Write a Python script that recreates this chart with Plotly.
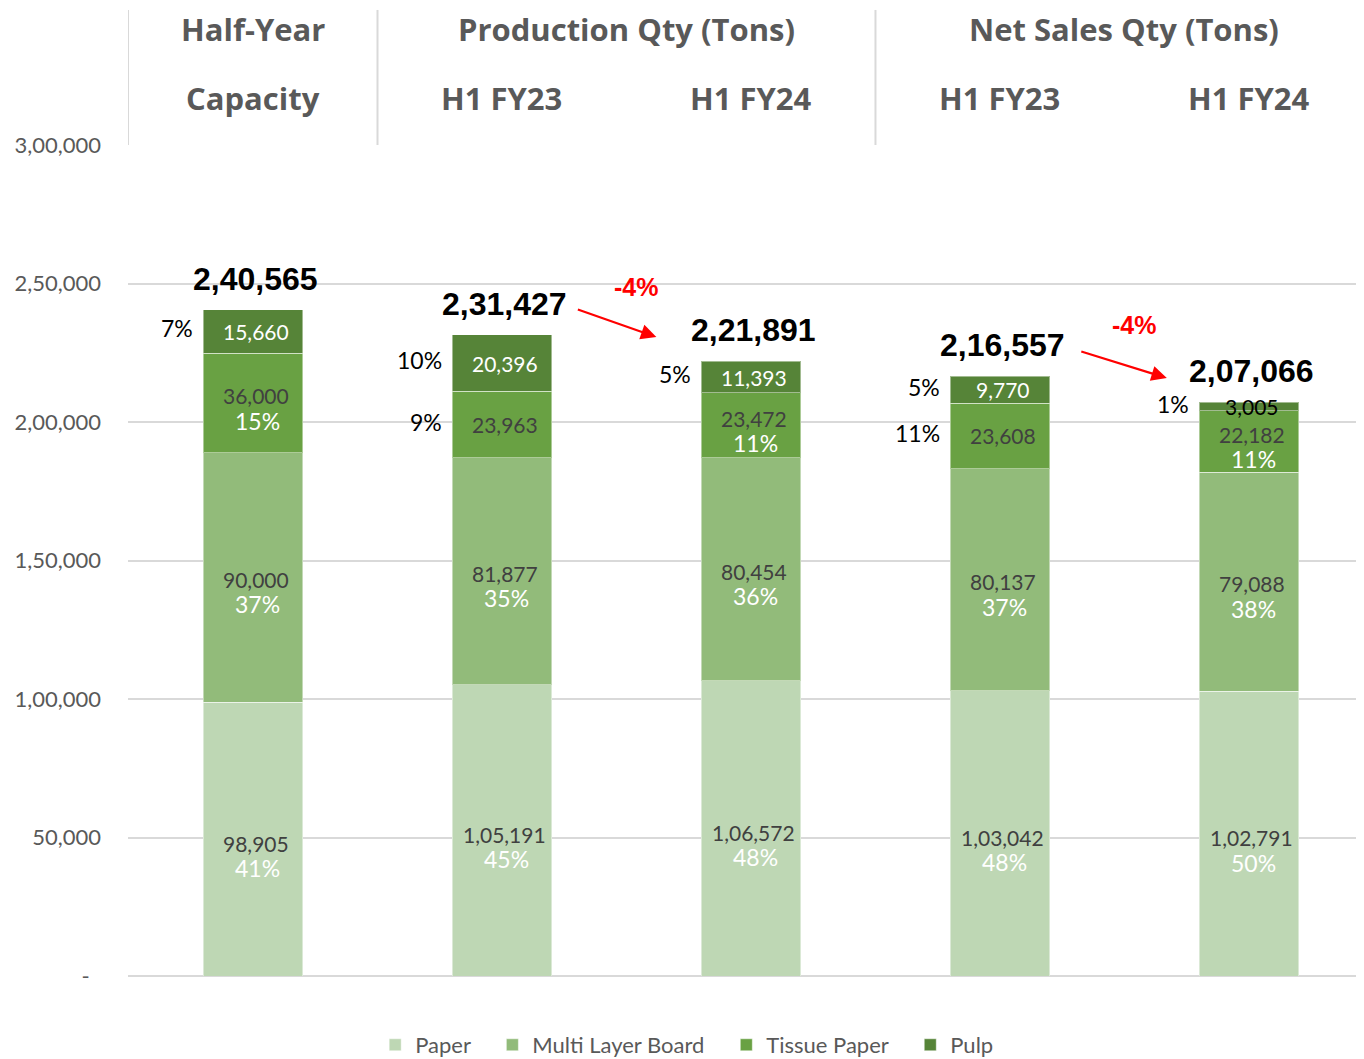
import plotly.graph_objects as go

# ---------------- data ----------------
categories = ["Half-Year Capacity", "Production H1 FY23", "Production H1 FY24",
              "Net Sales H1 FY23", "Net Sales H1 FY24"]
paper = [98905, 105191, 106572, 103042, 102791]
multi_layer_board = [90000, 81877, 80454, 80137, 79088]
tissue_paper = [36000, 23963, 23472, 23608, 22182]
pulp = [15660, 20396, 11393, 9770, 3005]

paper_pct = ["41%", "45%", "48%", "48%", "50%"]
mlb_pct = ["37%", "35%", "36%", "37%", "38%"]
tissue_pct = ["15%", "9%", "11%", "11%", "11%"]
pulp_pct = ["7%", "10%", "5%", "5%", "1%"]

change_labels = ["-4%", "-4%"]
tick_values = [0, 50000, 100000, 150000, 200000, 250000, 300000]
tick_labels = ["-\u00a0\u00a0", "50,000", "1,00,000", "1,50,000", "2,00,000", "2,50,000", "3,00,000"]

header_groups = ["Half-Year", "Production Qty (Tons)", "Net Sales Qty (Tons)"]
header_sub = ["Capacity", "H1 FY23", "H1 FY24", "H1 FY23", "H1 FY24"]

# ---------------- styling ----------------
series = [
    ("Paper", paper, paper_pct, "#BED7B4"),
    ("Multi Layer Board", multi_layer_board, mlb_pct, "#92BB7A"),
    ("Tissue Paper", tissue_paper, tissue_pct, "#69A143"),
    ("Pulp", pulp, pulp_pct, "#568438"),
]
# which percentage labels sit outside (left of bar)
tissue_outside = [False, True, False, True, False]
num_colors = {"Paper": "#404040", "Multi Layer Board": "#404040",
              "Tissue Paper": "#404040", "Pulp": "white"}
num_dy = {"Paper": -4, "Multi Layer Board": -2, "Tissue Paper": 7, "Pulp": 0}
# arrow placement: (head x offset from target bar, head y above target total, ax, ay)
arrow_style = [(-0.38, 8800, -80, -28), (-0.33, 8800, -87, -27)]

LABEL_FONT = "Lato"
HEAD_FONT = "Open Sans"
GRAY = "#595959"
BAR_W = 0.4
PAD = "\u00a0" * 3


def inr(n):
    s = str(int(n))
    if len(s) <= 3:
        return s
    last3, rest = s[-3:], s[:-3]
    groups = []
    while len(rest) > 2:
        groups.insert(0, rest[-2:])
        rest = rest[:-2]
    if rest:
        groups.insert(0, rest)
    return ",".join(groups + [last3])


x = list(range(len(categories)))
fig = go.Figure()
for k, (name, vals, _, col) in enumerate(series):
    fig.add_trace(go.Bar(
        x=x, y=vals, name=name + (PAD if k < len(series) - 1 else ""), width=BAR_W,
        marker=dict(color=col, line=dict(color="rgba(255,255,255,0.45)", width=1)),
        hoverinfo="skip",
    ))

annotations = []
base = [0] * len(x)
for name, vals, pcts, col in series:
    for i, v in enumerate(vals):
        center = base[i] + v / 2
        outside = (name == "Pulp") or (name == "Tissue Paper" and tissue_outside[i])
        ncol = num_colors[name]
        if name == "Pulp" and v < 5000:
            ncol = "black"
        dy = 0 if outside else num_dy[name]
        annotations.append(dict(
            x=i, y=center, text=inr(v), showarrow=False, xshift=3, yshift=dy,
            font=dict(family=LABEL_FONT, size=21, color=ncol)))
        if outside:
            annotations.append(dict(
                x=i - BAR_W / 2, y=center, text=pcts[i], showarrow=False,
                xanchor="right", xshift=-8, yshift=3,
                font=dict(family=LABEL_FONT, size=23, color="black")))
        else:
            annotations.append(dict(
                x=i, y=center, text=pcts[i], showarrow=False, xshift=5, yshift=dy - 25,
                font=dict(family=LABEL_FONT, size=23, color="white")))
        base[i] += v

totals = base
for i, t in enumerate(totals):
    annotations.append(dict(
        x=i, y=t, text="<b>" + inr(t) + "</b>", showarrow=False,
        yanchor="middle", yshift=31, xshift=3,
        font=dict(family="Liberation Sans", size=32, color="black")))

# change arrows (between consecutive periods)
for k, (a, b) in enumerate([(1, 2), (3, 4)]):
    hx, hy, ax, ay = arrow_style[k]
    annotations.append(dict(
        x=b + hx, y=totals[b] + hy, ax=ax, ay=ay, showarrow=True,
        arrowhead=2, arrowsize=1.4, arrowwidth=2.2, arrowcolor="#FF0000", text=""))
    annotations.append(dict(
        x=(a + b) / 2 + 0.04, y=totals[a] + 17300 + 1100 * k,
        text="<b>" + change_labels[k] + "</b>", showarrow=False,
        font=dict(family="Liberation Sans", size=25, color="#FF0000")))

# header
group_centers = [0, 1.5, 3.5]
for gx, txt in zip(group_centers, header_groups):
    annotations.append(dict(
        x=gx, xref="x", y=1.1395, yref="paper", text="<b>" + txt + "</b>", showarrow=False,
        yanchor="middle", font=dict(family=HEAD_FONT, size=31, color=GRAY)))
for i, txt in enumerate(header_sub):
    annotations.append(dict(
        x=i, xref="x", y=1.056, yref="paper", text="<b>" + txt + "</b>", showarrow=False,
        yanchor="middle", font=dict(family=HEAD_FONT, size=31, color=GRAY)))

shapes = []
for sx in [-0.502, 0.5, 2.5]:
    shapes.append(dict(type="line", xref="x", yref="paper", x0=sx, x1=sx,
                       y0=1.0, y1=1.1625, line=dict(color="#D9D9D9", width=2)))

fig.update_layout(
    barmode="stack",
    width=1356, height=1051,
    margin=dict(l=120, r=0, t=137, b=83, pad=0, autoexpand=False),
    paper_bgcolor="white", plot_bgcolor="white",
    xaxis=dict(range=[-0.502, 4.462], showticklabels=False, showgrid=False,
               zeroline=False, showline=False, fixedrange=True),
    yaxis=dict(range=[0, 300000], tickvals=tick_values, ticktext=tick_labels,
               showgrid=True, gridcolor="#D9D9D9", gridwidth=2,
               zeroline=True, zerolinecolor="#D9D9D9", zerolinewidth=2,
               showline=False, ticklabelstandoff=26,
               tickfont=dict(family=LABEL_FONT, size=22, color=GRAY)),
    legend=dict(orientation="h", x=0.452, xanchor="center", y=-0.083, yanchor="middle",
                traceorder="normal", font=dict(family=LABEL_FONT, size=22, color=GRAY)),
    annotations=annotations,
    shapes=shapes,
    showlegend=True,
)

fig.write_html("out.html")
